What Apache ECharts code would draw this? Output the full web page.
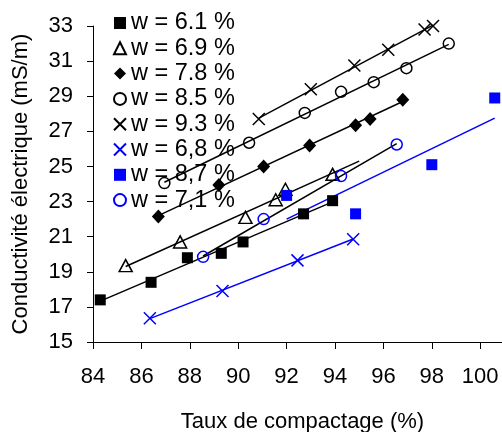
<!DOCTYPE html>
<html>
<head>
<meta charset="utf-8">
<script src="https://cdn.jsdelivr.net/npm/echarts@6/dist/echarts.min.js"></script>
<style>
  html, body { margin: 0; padding: 0; background: #fff; }
  #chart { width: 502px; height: 432px; }
</style>
</head>
<body>
<div id="chart"></div>
<script>
// 数据：各含水率下的压实度 (x) 与电导率 (y)
const x61 = [84.3, 86.4, 87.9, 89.3, 90.2, 92.7, 93.9];
const y61 = [17.4, 18.4, 19.8, 20.05, 20.7, 22.3, 23.05];
const x69 = [85.35, 87.6, 90.3, 91.55, 91.95, 93.9];
const y69 = [19.35, 20.7, 22.1, 23.1, 23.7, 24.55];
const x78 = [86.7, 89.2, 91.05, 92.95, 94.85, 95.45, 96.8];
const y78 = [22.15, 23.95, 25.0, 26.2, 27.35, 27.7, 28.8];
const x85 = [86.95, 90.45, 92.75, 94.25, 95.6, 96.95, 98.7];
const y85 = [24.05, 26.35, 28.05, 29.25, 29.8, 30.6, 32.0];
const x93 = [90.85, 93.0, 94.8, 96.2, 97.7, 98.05];
const y93 = [27.7, 29.4, 30.75, 31.65, 32.8, 33.0];
const x68 = [86.35, 89.35, 92.45, 94.75];
const y68 = [16.35, 17.9, 19.65, 20.85];
const x87 = [92.0, 94.85, 98.0, 100.6];
const y87 = [23.35, 22.3, 25.1, 28.9];
const x71 = [88.55, 91.05, 94.25, 96.55];
const y71 = [19.85, 22.0, 24.45, 26.25];

// 趋势线端点
const fitX61 = [84.3, 93.9],   fitY61 = [17.33, 22.98];
const fitX69 = [85.35, 95.0],  fitY69 = [19.3, 25.3];
const fitX78 = [86.7, 96.8],   fitY78 = [22.2, 28.7];
const fitX85 = [86.95, 98.7],  fitY85 = [24.1, 31.95];
const fitX93 = [90.85, 98.05], fitY93 = [27.75, 33.05];
const fitX68 = [86.35, 94.75], fitY68 = [16.33, 20.87];
const fitX87 = [92.0, 100.6],  fitY87 = [22.0, 27.75];
const fitX71 = [88.55, 96.55], fitY71 = [19.9, 26.3];

const xTicks = [84, 86, 88, 90, 92, 94, 96, 98, 100];
const legendNames = ['w = 6.1 %', 'w = 6.9 %', 'w = 7.8 %', 'w = 8.5 %',
                     'w = 9.3 %', 'w = 6,8 %', 'w = 8,7 %', 'w = 7,1 %'];

const FONT = 'Liberation Sans, Arial, sans-serif';
const BLUE = '#0000ff';
const CROSS = 'path://M0,0L10,10M10,0L0,10';

function zip(xs, ys) {
    return xs.map((x, i) => [x, ys[i]]);
}

function markers(name, xs, ys, symbol, size, color, hollow) {
    return {
        name: name,
        type: 'scatter',
        data: zip(xs, ys),
        symbol: symbol,
        symbolSize: size,
        clip: false,
        z: 3,
        itemStyle: hollow
            ? { color: 'rgba(0,0,0,0)', borderColor: color, borderWidth: 1.5, opacity: 1 }
            : { color: color, opacity: 1 }
    };
}

function trend(xs, ys, color) {
    return {
        type: 'line',
        data: zip(xs, ys),
        symbol: 'none',
        silent: true,
        clip: false,
        z: 2,
        lineStyle: { color: color, width: 1.5 }
    };
}

const chart = echarts.init(document.getElementById('chart'));

const option = {
    animation: false,
    backgroundColor: '#fff',
    textStyle: { fontFamily: FONT },
    grid: { left: 93, right: 0, top: 26, bottom: 90, containLabel: false, outerBoundsMode: 'none' },
    legend: {
        data: legendNames,
        orient: 'vertical',
        left: 113,
        top: 11,
        padding: 0,
        itemWidth: 12,
        itemHeight: 12,
        itemGap: 1.3,
        textStyle: { fontSize: 23.5, color: '#000', fontFamily: FONT }
    },
    xAxis: {
        type: 'value',
        min: 84,
        max: 100.9,
        interval: 2,
        name: 'Taux de compactage (%)',
        nameLocation: 'middle',
        nameGap: 69,
        nameTextStyle: { fontSize: 22, color: '#000', fontFamily: FONT, padding: [0, 0, 0, 10] },
        splitLine: { show: false },
        axisLine: { lineStyle: { color: '#000', width: 1 } },
        axisTick: { inside: false, length: 7, customValues: xTicks, lineStyle: { color: '#000' } },
        axisLabel: { margin: 24, fontSize: 22, color: '#000', fontFamily: FONT, customValues: xTicks }
    },
    yAxis: {
        type: 'value',
        min: 15,
        max: 33,
        interval: 2,
        name: 'Conductivité électrique (mS/m)',
        nameLocation: 'middle',
        nameGap: 61,
        nameTextStyle: { fontSize: 22, color: '#000', fontFamily: FONT },
        splitLine: { show: false },
        axisLine: { show: true, lineStyle: { color: '#000', width: 1 } },
        axisTick: { show: true, inside: false, length: 6, lineStyle: { color: '#000' } },
        axisLabel: { margin: 20, fontSize: 22, color: '#000', fontFamily: FONT }
    },
    series: [
        trend(fitX61, fitY61, '#000'),
        trend(fitX69, fitY69, '#000'),
        trend(fitX78, fitY78, '#000'),
        trend(fitX85, fitY85, '#000'),
        trend(fitX93, fitY93, '#000'),
        trend(fitX68, fitY68, BLUE),
        trend(fitX87, fitY87, BLUE),
        trend(fitX71, fitY71, '#000'),
        markers(legendNames[0], x61, y61, 'rect', 11, '#000', false),
        markers(legendNames[1], x69, y69, 'triangle', [13, 12], '#000', true),
        markers(legendNames[2], x78, y78, 'diamond', [13, 14], '#000', false),
        markers(legendNames[3], x85, y85, 'circle', 11, '#000', true),
        markers(legendNames[4], x93, y93, CROSS, 12, '#000', true),
        markers(legendNames[5], x68, y68, CROSS, 12, BLUE, true),
        markers(legendNames[6], x87, y87, 'rect', 11, BLUE, false),
        markers(legendNames[7], x71, y71, 'circle', 11, BLUE, true)
    ]
};

chart.setOption(option);

window.addEventListener('resize', () => {
    chart.resize();
});
</script>
</body>
</html>
